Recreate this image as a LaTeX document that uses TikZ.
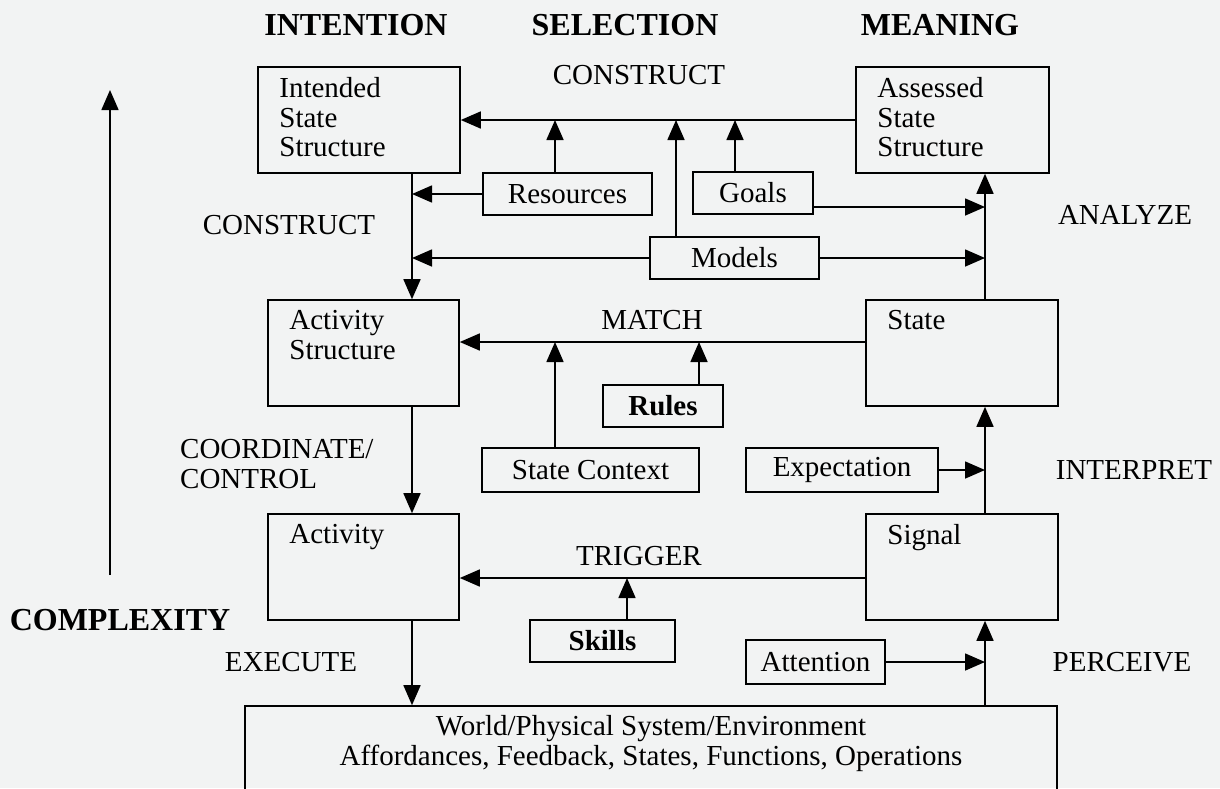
\documentclass[tikz,border=0pt]{standalone}
\usepackage{fontspec}
\setmainfont{Liberation Serif}
\usetikzlibrary{arrows.meta}
\definecolor{bg}{RGB}{242,243,243}
\tikzset{
  box/.style={draw, line width=1.6pt, inner sep=0pt},
  tl/.style={label={[anchor=north west, align=left, inner sep=0pt, xshift=22pt, yshift=-11pt]north west:{#1}}},
  arr/.style={line width=1.6pt, -{Triangle[length=20pt,width=17pt]}},
  lbl/.style={inner sep=0pt},
  hdr/.style={inner sep=0pt, font=\fontsize{32}{33}\selectfont\bfseries},
}
\begin{document}
\begin{tikzpicture}[x=1pt, y=-1pt, font=\fontsize{29}{29.5}\selectfont]
\useasboundingbox (0,0) rectangle (1220,788);
\fill[bg] (0,0) rectangle (1220,788);
\clip (0,0) rectangle (1220,788);

% headers
\node[hdr] (hI) at (356,25) {INTENTION};
\node[hdr] (hS) at (625,25) {SELECTION};
\node[hdr] (hM) at (940,25) {MEANING};

% main boxes
\node[box, minimum width=202pt, minimum height=106pt, tl={Intended\\State\\Structure}] (iss) at (359,120) {};
\node[box, minimum width=193pt, minimum height=106pt, tl={Assessed\\State\\Structure}] (ass) at (952.5,120) {};
\node[box, minimum width=191pt, minimum height=106pt, tl={Activity\\Structure}] (as) at (363.5,353) {};
\node[box, minimum width=192pt, minimum height=106pt, tl={State}] (state) at (962,353) {};
\node[box, minimum width=191pt, minimum height=106pt, tl={Activity}] (act) at (363.5,567) {};
\node[box, minimum width=192pt, minimum height=106pt, tl={Signal}] (sig) at (962,567) {};
\node[box, minimum width=812pt, minimum height=140pt,
  label={[anchor=north, align=center, inner sep=0pt, yshift=-10pt]north:{World/Physical System/Environment\\Affordances, Feedback, States, Functions, Operations}}] (world) at (651,776) {};

% small boxes
\node[box, minimum width=169pt, minimum height=42pt] (res) at (567.5,194) {Resources};
\node[box, minimum width=120pt, minimum height=42pt] (goals) at (753,193) {Goals};
\node[box, minimum width=169pt, minimum height=42pt] (mod) at (734.5,258) {Models};
\node[box, minimum width=120pt, minimum height=42pt] (rules) at (663,406) {\bfseries Rules};
\node[box, minimum width=217pt, minimum height=44pt] (sc) at (590.5,470) {State Context};
\node[box, minimum width=192pt, minimum height=44pt] (exp) at (842,470) {Expectation};
\node[box, minimum width=145pt, minimum height=42pt] (skills) at (602.5,641) {\bfseries Skills};
\node[box, minimum width=139pt, minimum height=44pt] (att) at (815.5,662) {Attention};

% process labels
\node[lbl] (lc1) at (639,75) {CONSTRUCT};
\node[lbl] (lc2) at (289,225) {CONSTRUCT};
\node[lbl] (lan) at (1125,215) {ANALYZE};
\node[lbl] (lma) at (652,320) {MATCH};
\node[lbl] (lin) at (1134,470) {INTERPRET};
\node[lbl, anchor=west, align=left] (lco) at (180,464) {COORDINATE/\\CONTROL};
\node[lbl] (ltr) at (639,556) {TRIGGER};
\node[lbl] (lex) at (291,662) {EXECUTE};
\node[lbl] (lpe) at (1122,662) {PERCEIVE};
\node[hdr] (cx) at (120,620) {COMPLEXITY};

% helper coordinates
\coordinate (xL) at (412,0);
\coordinate (xR) at (985,0);
\coordinate (cR) at (555,120);
\coordinate (cM) at (676,120);
\coordinate (cG) at (735,120);
\coordinate (gy) at (0,207);
\coordinate (yM) at (0,342);
\coordinate (mS) at (555,342);
\coordinate (mR) at (699,342);
\coordinate (yT) at (0,578);
\coordinate (tS) at (627,578);
\coordinate (cxb) at (110,575);
\coordinate (cxt) at (110,90);

% CONSTRUCT (top)
\draw[arr] (ass.west) -- (iss.east);
\draw[arr] (res.north -| cR) -- (cR);
\draw[arr] (mod.north -| cM) -- (cM);
\draw[arr] (goals.north -| cG) -- (cG);
% CONSTRUCT (left)
\draw[arr] (iss.south -| xL) -- (as.north -| xL);
\draw[arr] (res.west) -- (res.west -| xL);
\draw[arr] (mod.west) -- (mod.west -| xL);
% ANALYZE
\draw[arr] (state.north -| xR) -- (ass.south -| xR);
\draw[arr] (goals.east |- gy) -- (xR |- gy);
\draw[arr] (mod.east) -- (mod.east -| xR);
% MATCH
\draw[arr] (state.west |- yM) -- (as.east |- yM);
\draw[arr] (sc.north -| mS) -- (mS);
\draw[arr] (rules.north -| mR) -- (mR);
% COORDINATE/CONTROL
\draw[arr] (as.south -| xL) -- (act.north -| xL);
% INTERPRET
\draw[arr] (sig.north -| xR) -- (state.south -| xR);
\draw[arr] (exp.east) -- (exp.east -| xR);
% TRIGGER
\draw[arr] (sig.west |- yT) -- (act.east |- yT);
\draw[arr] (skills.north -| tS) -- (tS);
% EXECUTE
\draw[arr] (act.south -| xL) -- (world.north -| xL);
% PERCEIVE
\draw[arr] (world.north -| xR) -- (sig.south -| xR);
\draw[arr] (att.east) -- (att.east -| xR);
% COMPLEXITY
\draw[arr] (cxb) -- (cxt);
\end{tikzpicture}
\end{document}
